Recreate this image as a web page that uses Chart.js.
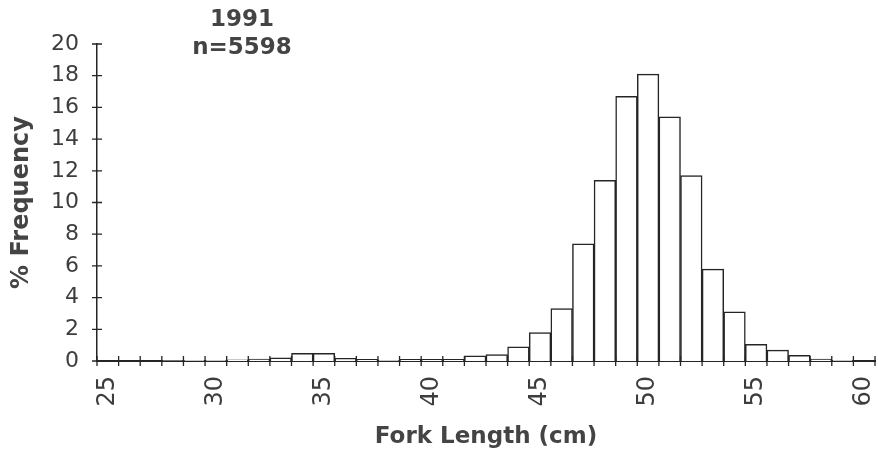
<!DOCTYPE html>
<html>
<head>
<meta charset="utf-8">
<script src="https://cdn.jsdelivr.net/npm/chart.js@4.4.1/dist/chart.umd.min.js"></script>
<style>
  html, body { margin:0; padding:0; background:#fff; }
  #wrap { position:relative; width:878px; height:457px; }
  #heading {
    position:absolute; left:142px; top:4px; width:200px;
    text-align:center; font-family:"DejaVu Sans", sans-serif; font-weight:bold;
    font-size:23px; line-height:28px; color:#444;
  }
</style>
</head>
<body>
<div id="wrap">
  <canvas id="chart" width="878" height="457"></canvas>
  <div id="heading">1991<br>n=5598</div>
</div>
<script>
/* ------- DATA ------- */
const lengths = [25,26,27,28,29,30,31,32,33,34,35,36,37,38,39,40,41,42,
                 43,44,45,46,47,48,49,50,51,52,53,54,55,56,57,58,59,60];
const freq = [0,0,0,0.02,0.04,0.05,0.08,0.12,0.2,0.48,0.48,0.17,0.1,0.05,0.1,0.1,0.1,0.32,
              0.4,0.9,1.8,3.3,7.4,11.4,16.7,18.1,15.4,11.7,5.8,3.1,1.05,0.69,0.36,0.12,0.04,0];
const yTicks = [0,2,4,6,8,10,12,14,16,18,20];

const ink = "#252525";
const textCol = "#3d3d3d";
const fontFam = "'DejaVu Sans', sans-serif";

/* ------- CROSS TICKS ON BOTH AXES ------- */
const crossTicks = {
  id: "crossTicks",
  afterDraw(chart){
    const ctx = chart.ctx, x = chart.scales.x, y = chart.scales.y;
    ctx.save();
    ctx.strokeStyle = ink;
    ctx.lineWidth = 1.3;
    ctx.beginPath();
    // y ticks
    yTicks.forEach(v=>{
      const py = y.getPixelForValue(v);
      ctx.moveTo(x.left - 5, py);
      ctx.lineTo(v === 0 ? x.left : x.left + 5, py);
    });
    // x ticks at bin edges
    const n = lengths.length;
    for(let i=0;i<=n;i++){
      const px = x.left + i * (x.right - x.left) / n;
      ctx.moveTo(px, y.bottom - 5);
      ctx.lineTo(px, y.bottom + 5);
    }
    ctx.stroke();
    ctx.restore();
  }
};

new Chart(document.getElementById("chart"), {
  type: "bar",
  data: {
    labels: lengths,
    datasets: [{
      data: freq,
      backgroundColor: "#ffffff",
      borderColor: ink,
      borderWidth: 1.5,
      barPercentage: 1,
      categoryPercentage: 1,
      borderSkipped: "bottom"
    }]
  },
  options: {
    responsive: false,
    animation: false,
    layout: { padding: { top: 44, right: 3, left: 0, bottom: 0 } },
    plugins: { legend: { display:false }, tooltip: { enabled:false } },
    scales: {
      x: {
        grid: { display:false, drawTicks:false },
        border: { display:true, color:ink, width:2 },
        ticks: {
          autoSkip: false,
          maxRotation: 90,
          minRotation: 90,
          padding: 15,
          color: textCol,
          font: { family: fontFam, size: 24 },
          callback: function(val, i){ return i % 5 === 0 ? lengths[i] : ""; }
        },
        title: {
          display: true,
          text: "Fork Length (cm)",
          color: "#444",
          font: { family: fontFam, size: 23, weight: "bold" },
          padding: { top: 0, bottom: 6 }
        },
        afterFit(s){
          s.height = 96;
          // keep the rotated end labels from shrinking the plot
          s.paddingLeft = 0;
          s.paddingRight = 0;
        }
      },
      y: {
        min: 0,
        max: 20,
        grid: { display:false, drawTicks:false },
        border: { display:true, color:ink, width:1.5 },
        afterBuildTicks(s){ s.ticks = yTicks.map(v=>({ value:v })); },
        ticks: {
          padding: 18,
          color: textCol,
          font: { family: fontFam, size: 22 }
        },
        title: {
          display: true,
          text: "% Frequency",
          color: "#444",
          font: { family: fontFam, size: 24, weight: "bold" },
          padding: { top: 7, bottom: 0 }
        },
        afterFit(s){ s.width = 97; }
      }
    }
  },
  plugins: [crossTicks]
});
</script>
</body>
</html>
